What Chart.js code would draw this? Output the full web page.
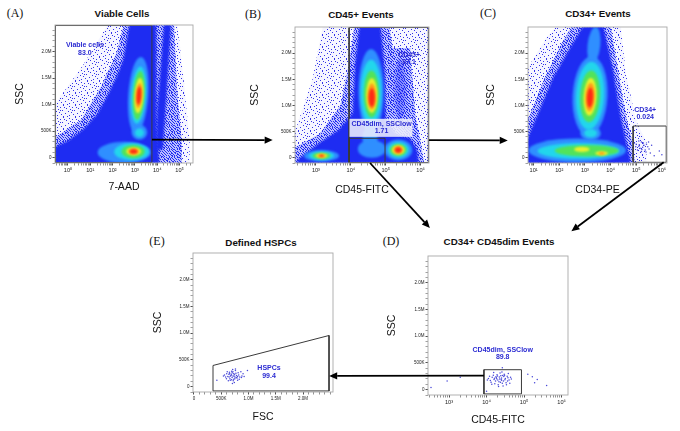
<!DOCTYPE html>
<html>
<head>
<meta charset="utf-8">
<script src="https://cdn.jsdelivr.net/npm/chart.js@4.4.0/dist/chart.umd.min.js"></script>
<style>
body{margin:0;background:#fff;width:680px;height:431px;position:relative;overflow:hidden;font-family:"Liberation Sans",Arial,sans-serif}
canvas.panel{position:absolute}
.ttl{position:absolute;transform:translate(-50%,-50%);font-weight:bold;font-size:9.8px;white-space:nowrap;color:#111}
.tag{position:absolute;transform:translate(-50%,-50%);font-family:"Liberation Serif","Times New Roman",serif;font-size:12px;color:#111}
#arrows{position:absolute;left:0;top:0;z-index:5}
</style>
</head>
<body>
<canvas id="arrows" width="680" height="431"></canvas>
<script>
// ---- axis ticks ----
const sscTicks = [0, 500, 1000, 1500, 2000]          // SSC in thousands
const sscLabels = ["0", "500K", "1.0M", "1.5M", "2.0M"]
const fscTicks = [0, 500, 1000, 1500, 2000]
const fscLabels = ["0", "500K", "1.0M", "1.5M", "2.0M"]
const decA = [0, 1, 2, 3, 4, 5]
const decLabA = ["10⁰", "10¹", "10²", "10³", "10⁴", "10⁵"]
const decB = [3, 4, 5, 6]
const decLabB = ["10³", "10⁴", "10⁵", "10⁶"]
const decC = [1, 2, 3, 4, 5, 6]
const decLabC = ["10¹", "10²", "10³", "10⁴", "10⁵", "10⁶"]
const decD = [3, 4, 5, 6]
const decLabD = ["10³", "10⁴", "10⁵", "10⁶"]

// ---- gates  (x: log10 decade for fluorescence, K for FSC; y: SSC in K) ----
const gateA = [[-0.56,-92],[3.76,-92],[3.76,2490],[-0.56,2490]]
const gateB1 = [[3.95,-92],[6.22,-92],[6.22,2490],[3.95,2490]]
const gateB2 = [[3.95,-92],[4.98,-92],[4.98,372],[3.95,372]]
const gateC = [[4.88,-87],[6.17,-87],[6.17,607],[4.88,607]]
const gateD = [[3.93,-80],[4.93,-80],[4.93,373],[3.93,373]]
const gateE = [[349,396],[2477,957],[2477,-80],[349,-80]]

// ---- gate labels: line1, line2, x, y1, y2, optional background box ----
const labelsA = [["Viable cells", "83.0", 0.76, 2113, 1962]]
const labelsB = [["CD45+", "87.1", 5.67, 1960, 1825],
                 ["CD45dim, SSClow", "1.71", 4.88, 651, 507, [3.96, 5.77, 400, 745]]]
const labelsC = [["CD34+", "0.024", 5.35, 917, 781]]
const labelsD = [["CD45dim, SSClow", "89.8", 4.43, 740, 602]]
const labelsE = [["HSPCs", "99.4", 1376, 352, 198]]

// ---- density contours: [level, points] polygons and [level, cx, cy, rx, ry, rot] blobs ----
const polysA = [
  [0, [[-0.6,-110],[-0.6,1000],[0.7,1760],[1.8,2520],[4.9,2520],[5.2,1400],[5.45,300],[5.45,-110]]],
  [1, [[-0.6,-110],[-0.6,380],[0.6,720],[1.5,1350],[2.2,2000],[2.5,2520],[4.75,2520],[4.9,1200],[5.1,300],[5.1,-110]]],
  [3, [[-0.6,-110],[-0.6,200],[0,320],[0.7,540],[1.3,820],[1.74,1150],[2.2,1550],[2.48,1850],[2.75,2520],[3.95,2520],[3.97,600],[4.1,-110]]],
  [3, [[3.95,150],[4.25,150],[4.62,2520],[4.3,2520],[4.0,900]]]
]
const blobsA = [
  [4, 2.52, 100, 1.19, 200, 0], [4, 3.15, 1180, 0.45, 720, 4], [4, 3.2, 480, 0.35, 140, 0],
  [5, 2.85, 110, 0.78, 160, 0], [5, 3.16, 1180, 0.33, 540, 4], [5, 3.2, 470, 0.2, 80, 0],
  [6, 2.92, 115, 0.52, 126, 0], [6, 3.17, 1175, 0.26, 460, 4],
  [7, 2.94, 118, 0.33, 75, 0], [7, 3.18, 1170, 0.2, 330, 4],
  [8, 2.94, 119, 0.24, 58, 0], [8, 3.18, 1170, 0.14, 240, 4],
  [9, 2.94, 119, 0.16, 42, 0], [9, 3.18, 1170, 0.1, 170, 4]
]
const polysB = [
  [0, [[2.4,-110],[2.4,500],[2.9,1500],[3.2,2520],[6.25,2520],[6.25,-110]]],
  [1, [[2.4,-110],[2.4,200],[3.1,450],[3.7,1000],[3.95,1800],[4.1,2520],[5.1,2520],[5.2,2100],[5.7,2100],[5.85,800],[6.0,300],[6.1,-110]]],
  [3, [[2.45,-110],[2.5,-20],[3.07,275],[3.64,525],[4.05,850],[4.12,1800],[4.25,2520],[4.85,2520],[4.98,1600],[5.0,700],[5.3,450],[5.7,380],[5.9,150],[5.95,-110]]]
]
const blobsB = [
  [2, 5.41, 1300, 0.17, 600, 0],
  [4, 4.58, 1270, 0.36, 810, 0], [4, 4.55, 380, 0.22, 220, 0], [4, 4.6, 170, 0.4, 170, 0],
  [4, 5.36, 150, 0.4, 200, 0], [4, 3.16, 38, 0.5, 110, 0],
  [5, 4.58, 1250, 0.3, 625, 0], [5, 5.36, 150, 0.3, 150, 0], [5, 3.16, 38, 0.36, 80, 0],
  [6, 4.59, 1220, 0.22, 450, 0], [6, 5.36, 150, 0.24, 115, 0], [6, 3.16, 38, 0.26, 60, 0],
  [7, 4.6, 1190, 0.16, 330, 0], [7, 5.36, 150, 0.18, 90, 0], [7, 3.16, 38, 0.17, 42, 0],
  [8, 4.6, 1170, 0.12, 250, 0], [8, 5.36, 150, 0.13, 70, 0], [8, 3.16, 38, 0.11, 30, 0],
  [9, 4.6, 1150, 0.09, 180, 0], [9, 5.36, 150, 0.09, 50, 0], [9, 3.16, 38, 0.06, 20, 0]
]
const polysC = [
  [0, [[0.75,-110],[0.75,1700],[1.5,2300],[1.9,2520],[4.4,2520],[4.6,1600],[5.0,700],[5.4,300],[5.4,-110]]],
  [1, [[0.75,-110],[0.75,700],[1.4,1500],[2.1,2200],[2.5,2520],[4.0,2520],[4.35,1500],[4.6,800],[4.85,300],[4.95,-110]]],
  [3, [[0.75,-110],[0.75,359],[1.76,1536],[2.41,2094],[2.93,2520],[3.72,2520],[4.11,1661],[4.37,855],[4.64,234],[4.76,-13],[4.76,-110]]]
]
const blobsC = [
  [4, 3.2, 1180, 0.68, 760, 3], [4, 3.35, 2150, 0.25, 350, 6], [4, 2.7, 140, 1.9, 230, 0], [4, 3.22, 470, 0.4, 140, 0],
  [5, 3.2, 1185, 0.55, 650, 3], [5, 2.75, 130, 1.6, 150, 0], [5, 3.22, 470, 0.25, 80, 0],
  [6, 3.2, 1175, 0.39, 495, 3], [6, 3.07, 135, 1.25, 110, 0],
  [7, 3.2, 1165, 0.25, 360, 3], [7, 2.88, 160, 0.3, 50, 0], [7, 3.65, 85, 0.25, 40, 0],
  [8, 3.2, 1160, 0.18, 270, 3], [8, 3.65, 85, 0.12, 25, 0],
  [9, 3.2, 1150, 0.12, 190, 3]
]

// ---- single events ----
const eventsC = [[5.0,260],[5.1,220],[5.2,300],[5.15,180],[5.3,240],[5.05,150],[5.25,200],[5.4,260],[5.35,150],[5.45,210],
  [5.2,120],[5.1,320],[5.5,170],[5.6,240],[4.98,210],[5.28,280],[5.38,110],[5.55,90],[5.7,40],[5.9,130],
  [6.0,60],[5.12,250],[5.22,160],[4.93,280],[5.48,300]]
const eventsD = [[4.35,200],[4.30,180],[4.40,220],[4.25,240],[4.45,160],[4.38,260],[4.20,190],[4.50,210],[4.33,150],[4.42,120],
  [4.15,230],[4.55,250],[4.28,280],[4.47,290],[4.10,170],[4.60,180],[4.36,310],[4.22,110],[4.52,130],[4.05,210],
  [4.64,230],[4.31,90],[4.44,70],[4.18,270],[4.58,300],[4.12,140],[4.40,175],[4.27,205],[4.49,185],[4.34,235],
  [4.24,160],[4.46,245],[4.37,140],[4.29,255],[4.56,160],[4.08,250],[4.62,120],[4.19,320],[4.53,90],[4.02,180],
  [4.41,330],[4.32,60],[4.66,200],[4.14,100],[4.48,270],[4.26,225],[4.39,195],[4.43,265],[4.21,215],[4.57,225],
  [5.1,290],[5.22,240],[5.35,190],[5.28,130],[4.42,410],[2.95,160],[2.52,40],[3.3,230],[5.6,80],[4.0,-30]]
const eventsE = [[716,198],[680,210],[750,180],[640,230],[790,160],[700,260],[620,190],[820,220],[730,140],[770,250],
  [660,150],[840,180],[690,290],[760,300],[600,240],[880,200],[720,110],[650,270],[800,120],[580,180],
  [900,240],[710,320],[740,80],[630,110],[860,280],[560,220],[780,210],[700,170],[745,230],[670,200],
  [610,280],[810,260],[690,130],[750,150],[725,240],[655,240],[830,140],[595,150],[870,170],[705,60],
  [760,330],[540,200],[920,190],[685,230],[735,200],[775,170],[645,180],[715,280],[800,190],[665,120],
  [420,120],[980,300]]

// ---- arrows between panels: from panel/x/y to panel/x/y ----
const arrowLinks = [
  ["A", 3.76, 340, "B", 1.76, 338],
  ["B", 6.24, 338, "C", -0.01, 330],
  ["B", 4.55, -100, "D", 2.49, 3025],
  ["C", 6.07, -87, "D", 6.26, 2964],
  ["D", 3.93, 261, "E", 2480, 200]
]

const headings = [
  ["(A)", 15, 13, "tag"], ["Viable Cells", 122, 13, "ttl"],
  ["(B)", 253, 14, "tag"], ["CD45+ Events", 361, 14, "ttl"],
  ["(C)", 488, 13, "tag"], ["CD34+ Events", 598, 13, "ttl"],
  ["(E)", 157, 241, "tag"], ["Defined HSPCs", 261, 242, "ttl"],
  ["(D)", 391, 241, "tag"], ["CD34+ CD45dim Events", 499, 241, "ttl"]
]

const panels = {
  A: {plot:[55,25,193,163], yTitleX:20, xTitleY:187, log:true, xr:[-0.58,5.6], maj:decA, lab:decLabA, xTitle:"7-AAD",
      polys:polysA, blobs:blobsA, gates:[gateA], events:[], labels:labelsA},
  B: {plot:[295,27,429,163], yTitleX:255, xTitleY:190, log:true, xr:[2.4,6.24], maj:decB, lab:decLabB, xTitle:"CD45-FITC",
      polys:polysB, blobs:blobsB, gates:[gateB1, gateB2], events:[], labels:labelsB},
  C: {plot:[528,27,667,163], yTitleX:491, xTitleY:190, log:true, xr:[0.78,6.2], maj:decC, lab:decLabC, xTitle:"CD34-PE",
      polys:polysC, blobs:blobsC, gates:[gateC], events:eventsC, labels:labelsC},
  D: {plot:[428,256,568,395], yTitleX:392, xTitleY:420, log:true, xr:[2.44,6.17], maj:decD, lab:decLabD, xTitle:"CD45-FITC",
      polys:[], blobs:[], gates:[gateD], events:eventsD, labels:labelsD},
  E: {plot:[193,253,333,392], yTitleX:158, xTitleY:417, log:false, xr:[-18,2550], maj:fscTicks, lab:fscLabels, xTitle:"FSC",
      polys:[], blobs:[], gates:[gateE], events:eventsE, labels:labelsE}
}

const FONT = '"Liberation Sans", Arial, sans-serif'
Chart.defaults.font.family = FONT
const levelColors = [null, null, "rgba(30,40,250,0.35)", "#1e2cf2", "#2f8fff", "#22d6ec", "#52e35a", "#ecf02c", "#ff9a1a", "#ff2a14"]

// speckle textures for the sparse outer regions (irregular tiles so no stripes show)
const sparseDots = [[1,0],[7,1],[4,3],[10,2],[0,5],[6,6],[9,7],[3,8],[11,9],[7,10],[1,11],[5,11],[8,4],[2,2],[10,5]]
const mediumDots = [[0,0],[3,0],[5,0],[1,1],[6,1],[2,2],[4,2],[7,2],[0,3],[5,3],[1,4],[3,4],[6,4],[4,5],[7,5],[0,6],[2,6],[5,6],[3,7],[6,7]]

function dotPattern(ctx, size, dots, color, wash){
  const t = document.createElement("canvas")
  t.width = t.height = size
  const g = t.getContext("2d")
  g.fillStyle = wash
  g.fillRect(0, 0, size, size)
  g.fillStyle = color
  dots.forEach(([a, b]) => g.fillRect(a, b, 1, 1))
  return ctx.createPattern(t, "repeat")
}

const densityPlugin = {
  id: "density",
  beforeDatasetsDraw(chart){
    const p = chart.canvas.panel
    const {ctx, chartArea: a, scales: {x, y}} = chart
    const px = v => x.getPixelForValue(p.log ? 10 ** v : v)
    const fills = [
      dotPattern(ctx, 12, sparseDots, "rgba(30,30,230,0.9)", "rgba(60,60,255,0.05)"),
      dotPattern(ctx, 8, mediumDots, "#1f2ef0", "rgba(40,50,255,0.28)")
    ]
    ctx.save()
    ctx.beginPath()
    ctx.rect(a.left, a.top, a.width, a.height)
    ctx.clip()
    const shapes = []
    p.polys.forEach(s => shapes.push({lv: s[0], poly: s[1]}))
    p.blobs.forEach(s => shapes.push({lv: s[0], blob: s}))
    shapes.sort((m, n) => m.lv - n.lv)
    shapes.forEach(s => {
      ctx.fillStyle = s.lv < 2 ? fills[s.lv] : levelColors[s.lv]
      ctx.filter = s.lv >= 4 ? "blur(1.2px)" : (s.lv >= 2 ? "blur(1px)" : "none")
      ctx.beginPath()
      if (s.poly) {
        s.poly.forEach(([d, v], i) => {
          const X = px(d), Y = y.getPixelForValue(v)
          i ? ctx.lineTo(X, Y) : ctx.moveTo(X, Y)
        })
        ctx.closePath()
      } else {
        const [, cx, cy, rx, ry, rot] = s.blob
        const X = px(cx), Y = y.getPixelForValue(cy)
        const rX = Math.abs(px(cx + rx) - X), rY = Math.abs(y.getPixelForValue(cy + ry) - Y)
        ctx.ellipse(X, Y, rX, rY, rot * Math.PI / 180, 0, Math.PI * 2)
      }
      ctx.fill()
    })
    ctx.restore()
  },
  afterDatasetsDraw(chart){
    const p = chart.canvas.panel
    const {ctx, chartArea: a, scales: {x, y}} = chart
    const px = v => x.getPixelForValue(p.log ? 10 ** v : v)
    ctx.save()
    ctx.strokeStyle = "#a8a8a8"
    ctx.lineWidth = 0.9
    ctx.strokeRect(a.left, a.top, a.width, a.height)
    p.labels.forEach(([t1, t2, xv, y1, y2, bg]) => {
      if (bg) {
        ctx.fillStyle = "rgba(238,238,252,0.88)"
        const x0 = px(bg[0]), x1 = px(bg[1]), yt = y.getPixelForValue(bg[3]), yb = y.getPixelForValue(bg[2])
        ctx.fillRect(x0, yt, x1 - x0, yb - yt)
      }
      ctx.fillStyle = "#2b2bd2"
      ctx.font = "bold 7px " + FONT
      ctx.textAlign = "center"
      ctx.textBaseline = "middle"
      ctx.fillText(t1, px(xv), y.getPixelForValue(y1))
      ctx.fillText(t2, px(xv), y.getPixelForValue(y2))
    })
    ctx.restore()
  }
}

function isDecade(v){
  const l = Math.log10(v)
  return Math.abs(l - Math.round(l)) < 1e-9
}

function makeChart(key){
  const p = panels[key]
  const [L, T, R, B] = p.plot
  const left = Math.round(p.yTitleX - 6.3), top = T - 4
  const width = R + 6 - left, height = Math.round(p.xTitleY + 6.3) - top
  const cv = document.createElement("canvas")
  cv.className = "panel"
  cv.width = width
  cv.height = height
  cv.style.left = left + "px"
  cv.style.top = top + "px"
  cv.panel = p
  p.offset = [left, top]
  document.body.appendChild(cv)
  const yW = L - left, xH = height - (B - top)
  const toXY = ([u, v]) => ({x: p.log ? 10 ** u : u, y: v})

  const datasets = p.gates.map(g => ({
    data: g.concat([g[0]]).map(toXY), showLine: true, borderColor: "#3a3a3a",
    borderWidth: 1, pointRadius: 0, fill: false
  }))
  if (p.events.length) datasets.push({
    data: p.events.map(toXY), pointRadius: 0.75, backgroundColor: "#4848d8", borderWidth: 0
  })

  const xScale = p.log ? {
    type: "logarithmic", min: 10 ** p.xr[0], max: 10 ** p.xr[1],
    afterBuildTicks: s => {
      const t = []
      for (let e = Math.floor(p.xr[0]); e <= Math.ceil(p.xr[1]); e++) {
        for (let k = 1; k <= 9; k++) {
          const l = Math.log10(k * 10 ** e)
          if (l >= p.xr[0] && l <= p.xr[1]) t.push({value: k * 10 ** e})
        }
      }
      s.ticks = t
    },
    ticks: {
      callback: v => {
        if (!isDecade(v)) return ""
        const i = p.maj.indexOf(Math.round(Math.log10(v)))
        return i < 0 ? "" : p.lab[i]
      }
    },
    grid: {tickColor: c => isDecade(c.tick.value) ? "#222" : "#777"}
  } : {
    type: "linear", min: p.xr[0], max: p.xr[1],
    afterBuildTicks: s => {
      const t = []
      for (let v = 0; v <= 2500; v += 100) t.push({value: v})
      s.ticks = t
    },
    ticks: {
      callback: v => {
        const i = p.maj.indexOf(v)
        return i < 0 ? "" : p.lab[i]
      }
    },
    grid: {tickColor: c => p.maj.includes(c.tick.value) ? "#222" : "#777"}
  }
  Object.assign(xScale.ticks, {autoSkip: false, maxRotation: 0, padding: 2, color: "#222",
    font: {size: p.log ? 5.6 : 4.5}})
  Object.assign(xScale.grid, {drawOnChartArea: false, drawTicks: true, tickLength: 2.5, tickWidth: 0.8})
  xScale.border = {display: false}
  xScale.title = {display: true, text: p.xTitle, color: "#111", font: {size: 10.5}, padding: {top: 0, bottom: 0}}
  xScale.afterFit = s => { s.height = xH }

  const yScale = {
    type: "linear", min: -100, max: 2500,
    afterBuildTicks: s => {
      const t = []
      for (let v = -100; v <= 2400; v += 100) t.push({value: v})
      s.ticks = t
    },
    ticks: {
      autoSkip: false, padding: 1, color: "#222", font: {size: 4.5},
      callback: v => {
        const i = sscTicks.indexOf(v)
        return i < 0 ? "" : sscLabels[i]
      }
    },
    grid: {drawOnChartArea: false, drawTicks: true, tickLength: 2.5, tickWidth: 0.8,
           tickColor: c => sscTicks.includes(c.tick.value) ? "#222" : "#888"},
    border: {display: false},
    title: {display: true, text: "SSC", color: "#111", font: {size: 10.5}, padding: {top: 0, bottom: 0}},
    afterFit: s => { s.width = yW }
  }

  return new Chart(cv, {
    type: "scatter",
    data: {datasets},
    options: {
      responsive: false, animation: false, events: [],
      layout: {padding: {top: 4, right: 6, left: 0, bottom: 0}},
      plugins: {legend: {display: false}, tooltip: {enabled: false}},
      scales: {x: xScale, y: yScale}
    },
    plugins: [densityPlugin]
  })
}

const charts = {}
Object.keys(panels).forEach(k => { charts[k] = makeChart(k) })

headings.forEach(([text, x, y, cls]) => {
  const d = document.createElement("div")
  d.className = cls
  d.textContent = text
  d.style.left = x + "px"
  d.style.top = y + "px"
  document.body.appendChild(d)
})

// arrows between gates and panels
function pagePoint(key, xv, yv){
  const p = panels[key], c = charts[key]
  return [p.offset[0] + c.scales.x.getPixelForValue(p.log ? 10 ** xv : xv),
          p.offset[1] + c.scales.y.getPixelForValue(yv)]
}
const actx = document.getElementById("arrows").getContext("2d")
actx.strokeStyle = "#000"
actx.fillStyle = "#000"
actx.lineWidth = 1.8
arrowLinks.forEach(([k1, x1, y1, k2, x2, y2]) => {
  const [sx, sy] = pagePoint(k1, x1, y1)
  const [ex, ey] = pagePoint(k2, x2, y2)
  const ang = Math.atan2(ey - sy, ex - sx)
  const head = 8, half = 3.6
  const bx = ex - head * Math.cos(ang), by = ey - head * Math.sin(ang)
  actx.beginPath()
  actx.moveTo(sx, sy)
  actx.lineTo(bx, by)
  actx.stroke()
  actx.beginPath()
  actx.moveTo(ex, ey)
  actx.lineTo(bx + half * Math.sin(ang), by - half * Math.cos(ang))
  actx.lineTo(bx - half * Math.sin(ang), by + half * Math.cos(ang))
  actx.closePath()
  actx.fill()
})
</script>
</body>
</html>
